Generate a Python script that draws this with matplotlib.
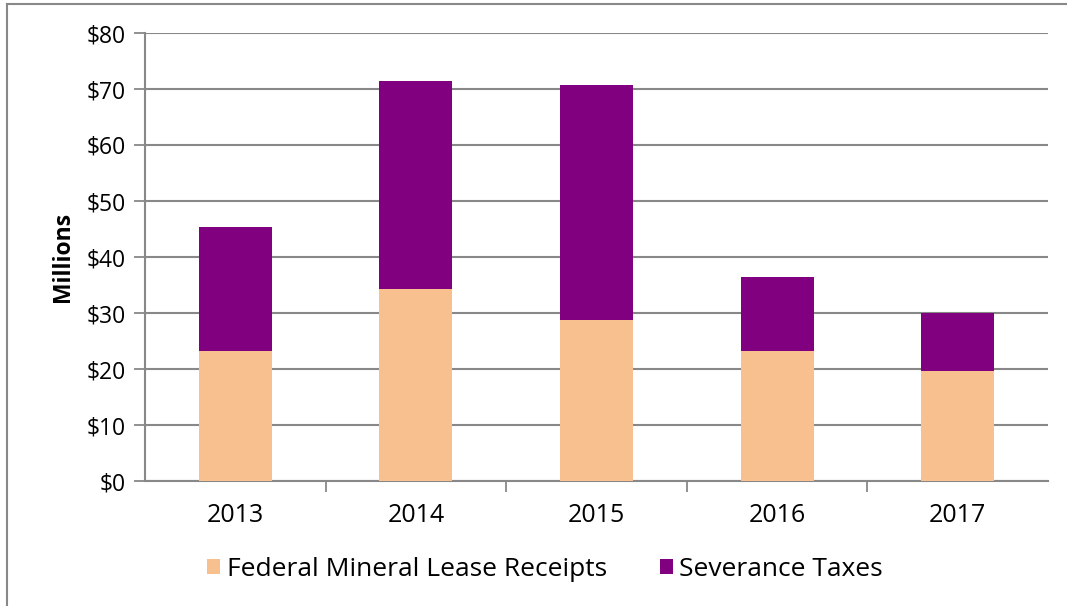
import matplotlib
matplotlib.use("Agg")
import matplotlib.pyplot as plt
import numpy as np

years = ["2013", "2014", "2015", "2016", "2017"]
federal_mineral_lease = [23.2, 34.3, 28.8, 23.2, 19.6]
severance_taxes = [22.2, 37.1, 42.0, 13.2, 10.4]
yticks = [0, 10, 20, 30, 40, 50, 60, 70, 80]
ytick_labels = ["$0", "$10", "$20", "$30", "$40", "$50", "$60", "$70", "$80"]

plt.rcParams['font.family'] = ['Open Sans', 'DejaVu Sans']

fig = plt.figure(figsize=(10.67, 6.06), dpi=100)
W, H = 1067, 606
ax = fig.add_axes([145 / W, 1 - 481 / H, (1048 - 145) / W, (481 - 33) / H])

x = np.arange(len(years))
peach = "#F8BF8F"
purple = "#800080"
ax.bar(x, federal_mineral_lease, width=0.405, color=peach, zorder=3,
       label="Federal Mineral Lease Receipts")
ax.bar(x, severance_taxes, width=0.405, bottom=federal_mineral_lease, color=purple,
       zorder=3, label="Severance Taxes")

ax.set_xlim(-0.5, len(years) - 0.5)
ax.set_ylim(0, 80)
ax.set_yticks(yticks)
ax.set_yticklabels(ytick_labels, fontsize=16.5)
ax.set_xticks(x)
ax.set_xticklabels(years, fontsize=18)
ax.tick_params(axis='x', length=0, pad=16)
ax.set_xticks(np.arange(0.5, len(years) - 0.5, 1), minor=True)
ax.tick_params(axis='x', which='minor', length=8, width=1.3, color="#888888", direction='out')
ax.tick_params(axis='y', length=8, width=1.3, color="#888888", direction='out', pad=6)

ax.grid(axis='y', color="#888888", linewidth=1.5, zorder=0)
for s in ["top", "right"]:
    ax.spines[s].set_visible(False)
for s in ["left", "bottom"]:
    ax.spines[s].set_color("#888888")
    ax.spines[s].set_linewidth(1.5)

ax.set_ylabel("Millions", fontsize=16.5, fontweight='bold', labelpad=8)

leg = fig.legend(loc='center', bbox_to_anchor=(545 / W, 1 - 569 / H), ncol=2, frameon=False,
                 fontsize=19, handlelength=0.5, handleheight=0.5, handletextpad=0.25,
                 columnspacing=2.0)

# outer border (left and top only visible)
fig.add_artist(plt.Line2D([7 / W, 7 / W], [0, 1 - 4 / H], transform=fig.transFigure,
                          color="#888888", linewidth=1.5))
fig.add_artist(plt.Line2D([7 / W, 1], [1 - 4 / H, 1 - 4 / H], transform=fig.transFigure,
                          color="#888888", linewidth=1.5))

fig.savefig("out.png", dpi=100)
